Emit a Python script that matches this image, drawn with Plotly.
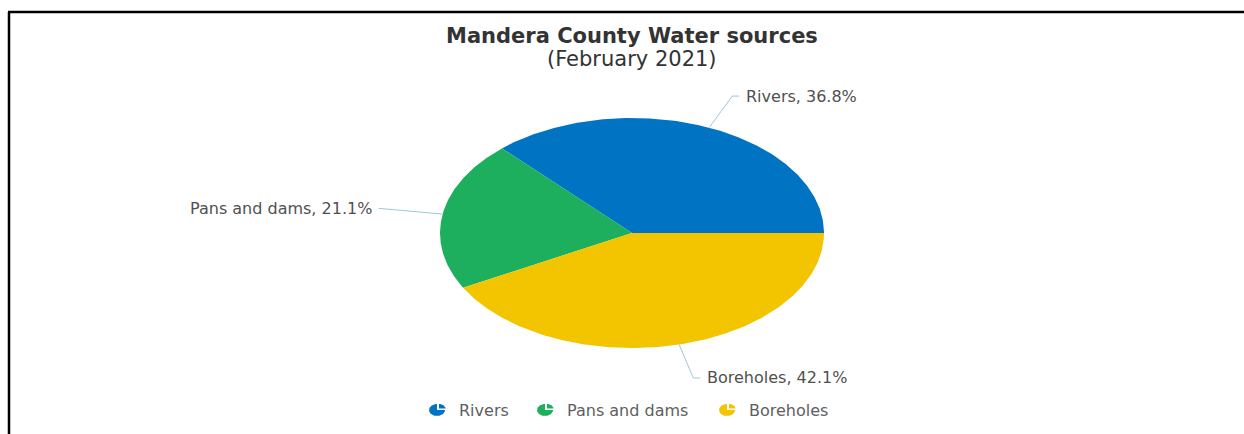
import numpy as np
import plotly.graph_objects as go

# ---- data ----
CATEGORIES = ["Rivers", "Pans and dams", "Boreholes"]
VALUES = [7, 4, 8]
COLORS = ["#0073C3", "#1DAE5E", "#F2C500"]
TITLE = "Mandera County Water sources"
SUBTITLE = "(February 2021)"

# ---- layout constants ----
W, H = 1244, 434
CX, CY, RX, RY = 632, 233, 192, 115
ELBOW = 1.30
HSEG = 7
GAP = 5
LEGEND_X = [437, 545, 727]
LEGEND_Y = 410
FONT = "DejaVu Sans, Verdana, sans-serif"

fig = go.Figure()

total = float(sum(VALUES))
fracs = [v / total for v in VALUES]
start = 0.0
annotations = []


def ell(theta_deg, cx, cy, rx, ry):
    t = np.radians(theta_deg)
    return cx + rx * np.cos(t), cy - ry * np.sin(t)


for cat, val, frac, col in zip(CATEGORIES, VALUES, fracs, COLORS):
    a0, a1 = start, start + frac * 360.0
    ts = np.linspace(a0, a1, 200)
    xs, ys = ell(ts, CX, CY, RX, RY)
    xs = np.concatenate([[CX], xs, [CX]])
    ys = np.concatenate([[CY], ys, [CY]])
    fig.add_trace(go.Scatter(x=xs, y=ys, mode="lines", fill="toself",
                             fillcolor=col, line=dict(width=0, color=col),
                             hoverinfo="skip", showlegend=False))
    # leader line
    mid = (a0 + a1) / 2.0
    px, py = ell(mid, CX, CY, RX, RY)
    ex, ey = CX + (px - CX) * ELBOW, CY + (py - CY) * ELBOW
    right = np.cos(np.radians(mid)) >= 0
    hx = ex + HSEG if right else ex - HSEG
    fig.add_trace(go.Scatter(x=[px, ex, hx], y=[py, ey, ey], mode="lines",
                             line=dict(width=1, color="#9fc7d6"),
                             hoverinfo="skip", showlegend=False))
    annotations.append(dict(
        x=hx + (GAP if right else -GAP), y=ey, xref="x", yref="y",
        text=f"{cat}, {val / total * 100:.1f}%", showarrow=False,
        xanchor="left" if right else "right", yanchor="middle",
        font=dict(family=FONT, size=16, color="#505050")))
    start = a1

# custom legend with pie icons
for cat, col, lx in zip(CATEGORIES, COLORS, LEGEND_X):
    ts = np.linspace(90, 360, 60)
    xs, ys = ell(ts, lx, LEGEND_Y, 8, 6)
    fig.add_trace(go.Scatter(x=np.concatenate([[lx], xs, [lx]]),
                             y=np.concatenate([[LEGEND_Y], ys, [LEGEND_Y]]),
                             mode="lines", fill="toself", fillcolor=col,
                             line=dict(width=0, color=col), hoverinfo="skip",
                             showlegend=False))
    ox, oy = lx + 2, LEGEND_Y - 1.5
    ts = np.linspace(0, 90, 30)
    xs, ys = ell(ts, ox, oy, 6.5, 4.5)
    fig.add_trace(go.Scatter(x=np.concatenate([[ox], xs, [ox]]),
                             y=np.concatenate([[oy], ys, [oy]]),
                             mode="lines", fill="toself", fillcolor=col,
                             line=dict(width=0, color=col), hoverinfo="skip",
                             showlegend=False))
    annotations.append(dict(
        x=lx + 20, y=LEGEND_Y, xref="x", yref="y", text=cat, showarrow=False,
        xanchor="left", yanchor="middle",
        font=dict(family=FONT, size=16, color="#606060")))

# title & subtitle
annotations.append(dict(x=CX, y=36, xref="x", yref="y", text=f"<b>{TITLE}</b>",
                        showarrow=False, xanchor="center", yanchor="middle",
                        font=dict(family=FONT, size=21, color="#333333")))
annotations.append(dict(x=CX, y=59, xref="x", yref="y", text=SUBTITLE,
                        showarrow=False, xanchor="center", yanchor="middle",
                        font=dict(family=FONT, size=21, color="#333333")))

shapes = [
    dict(type="line", xref="x", yref="y", x0=8, x1=W, y0=12, y1=12,
         line=dict(color="black", width=2.5)),
    dict(type="line", xref="x", yref="y", x0=9, x1=9, y0=12, y1=H,
         line=dict(color="black", width=2.5)),
]

fig.update_layout(
    width=W, height=H, margin=dict(l=0, r=0, t=0, b=0),
    paper_bgcolor="white", plot_bgcolor="white",
    xaxis=dict(range=[0, W], visible=False, fixedrange=True),
    yaxis=dict(range=[H, 0], visible=False, fixedrange=True),
    annotations=annotations, shapes=shapes, showlegend=False,
)

fig.write_html("out.html")
